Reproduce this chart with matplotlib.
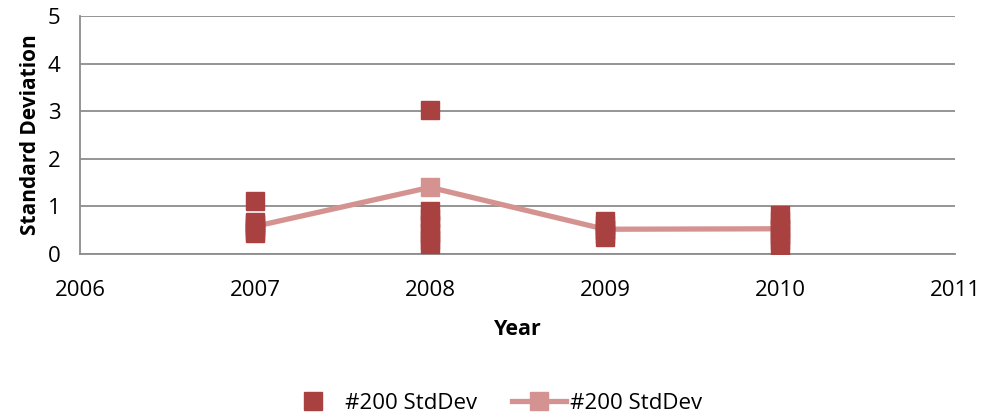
import numpy as np
import matplotlib.pyplot as plt
from matplotlib.lines import Line2D

plt.rcParams['font.family'] = ['Open Sans', 'DejaVu Sans']

# individual standard deviations per year (dark squares)
years_pts = [2007] * 6 + [2008] * 7 + [2009] * 5 + [2010] * 6
sd_pts = [1.12, 0.68, 0.62, 0.55, 0.49, 0.44,
          3.03, 0.90, 0.75, 0.60, 0.45, 0.30, 0.20,
          0.69, 0.60, 0.50, 0.42, 0.36,
          0.82, 0.70, 0.55, 0.40, 0.30, 0.17]

# average standard deviation per year (light line)
years_avg = [2007, 2008, 2009, 2010]
sd_avg = [0.58, 1.40, 0.52, 0.53]

dark = '#A8413F'
light = '#D49391'

fig = plt.figure(figsize=(9.87, 4.19), dpi=100)
ax = fig.add_axes([80 / 987, 1 - 254 / 419, 875 / 987, 238 / 419])

ax.plot(years_avg, sd_avg, color=light, lw=3.8, marker='s', ms=12.5,
        zorder=2, label='#200 StdDev')
ax.plot(years_pts, sd_pts, ls='none', color=dark, marker='s', ms=12.5,
        zorder=3, label='#200 StdDev')

ax.set_xlim(2006, 2011)
ax.set_ylim(0, 5)
ax.set_xticks(range(2006, 2012))
ax.set_yticks(range(0, 6))
ax.yaxis.grid(True, color='#8C8C8C', lw=1.3)
ax.set_axisbelow(True)
for s in ['top', 'right']:
    ax.spines[s].set_visible(False)
ax.spines['left'].set_color('#8C8C8C')
ax.spines['bottom'].set_color('#8C8C8C')
ax.spines['left'].set_linewidth(1.3)
ax.spines['bottom'].set_linewidth(1.3)
ax.tick_params(length=0, labelsize=16)
ax.tick_params(axis='x', pad=19)
ax.tick_params(axis='y', pad=14)

ax.set_xlabel('Year', fontsize=15.5, fontweight='bold', labelpad=13)
ax.set_ylabel('Standard Deviation', fontsize=15, fontweight='bold', labelpad=5)

handles = [Line2D([], [], ls='none', color=dark, marker='s', ms=12.5),
           Line2D([], [], color=light, lw=3.8, marker='s', ms=12.5)]
fig.legend(handles, ['#200 StdDev', '#200 StdDev'], loc='center',
           bbox_to_anchor=(0.501, 1 - 403 / 419), ncol=2, frameon=False,
           fontsize=16, handlelength=2.4, handletextpad=0.2, columnspacing=1.6)

fig.savefig('out.png', dpi=100)
